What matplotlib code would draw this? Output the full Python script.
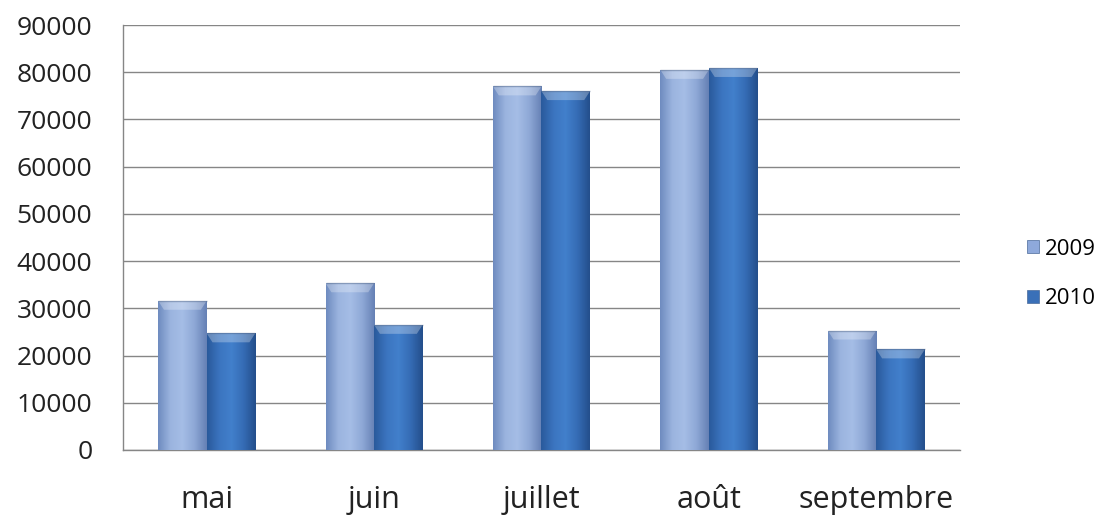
import numpy as np
import matplotlib.pyplot as plt
from matplotlib.patches import Patch, Polygon
from matplotlib.colors import LinearSegmentedColormap

mois = ['mai', 'juin', 'juillet', 'août', 'septembre']
annees = ['2009', '2010']
v2009 = [31600, 35300, 77000, 80500, 25300]
v2010 = [24700, 26500, 76000, 80900, 21300]
ticks_y = list(range(0, 90001, 10000))

# couleurs (dégradé horizontal pour imiter Excel 2007)
c2009 = ['#6f8cc0', '#9bb4df', '#a5bde6', '#8ea8d6', '#6681b5']
c2010 = ['#2a5a9c', '#3b74bf', '#4280cc', '#356cb5', '#244f8c']
plein = {'2009': '#8ea9db', '2010': '#3a70b8'}

plt.rcParams['font.family'] = ['Open Sans', 'DejaVu Sans']

fig = plt.figure(figsize=(10.97, 5.21), dpi=100)
ax = fig.add_axes([0.1121, 0.1363, 0.763, 0.8157])

x = np.arange(len(mois))
w = 0.29
b1 = ax.bar(x - w / 2, v2009, w, color=plein['2009'], zorder=3)
b2 = ax.bar(x + w / 2, v2010, w, color=plein['2010'], zorder=3)

grad = np.linspace(0, 1, 64).reshape(1, -1)
biseau = 1900  # hauteur du reflet en haut des barres
for bars, cols in ((b1, c2009), (b2, c2010)):
    cmap = LinearSegmentedColormap.from_list('g', cols)
    for r in bars:
        x0, y0 = r.get_x(), r.get_y()
        bw, bh = r.get_width(), r.get_height()
        im = ax.imshow(grad, cmap=cmap, aspect='auto', zorder=4,
                       extent=(x0, x0 + bw, y0, y0 + bh))
        im.set_clip_path(r)
        top = y0 + bh
        ins = bw * 0.12
        ax.add_patch(Polygon([(x0, top), (x0 + bw, top),
                              (x0 + bw - ins, top - biseau), (x0 + ins, top - biseau)],
                             closed=True, facecolor='white', alpha=0.28,
                             edgecolor='none', zorder=5))
        ax.plot([x0, x0 + bw], [top, top], color='#5a6f90', alpha=0.5,
                lw=1, zorder=6, solid_capstyle='butt')

ax.set_xlim(-0.5, len(mois) - 0.5)
ax.set_ylim(0, 90000)
ax.set_yticks(ticks_y)
ax.set_yticklabels([str(t) for t in ticks_y], fontsize=19, color='#222222')
ax.set_xticks(x)
ax.set_xticklabels(mois, fontsize=22, color='#222222')
ax.tick_params(axis='x', length=0, pad=25)
ax.tick_params(axis='y', length=0, pad=22)
ax.grid(axis='y', color='#868686', lw=1, zorder=0)
for s in ['top', 'right']:
    ax.spines[s].set_visible(False)
for s in ['left', 'bottom']:
    ax.spines[s].set_color('#868686')
    ax.spines[s].set_linewidth(1)

handles = [Patch(facecolor=plein[a], edgecolor='#4a6a9a', lw=0.5) for a in annees]
fig.legend(handles, annees, loc='center left', bbox_to_anchor=(0.936, 0.474),
           frameon=False, fontsize=16, handlelength=0.55, handleheight=0.55,
           handletextpad=0.25, labelspacing=1.3, borderaxespad=0, borderpad=0)

fig.savefig('out.png', dpi=100)
